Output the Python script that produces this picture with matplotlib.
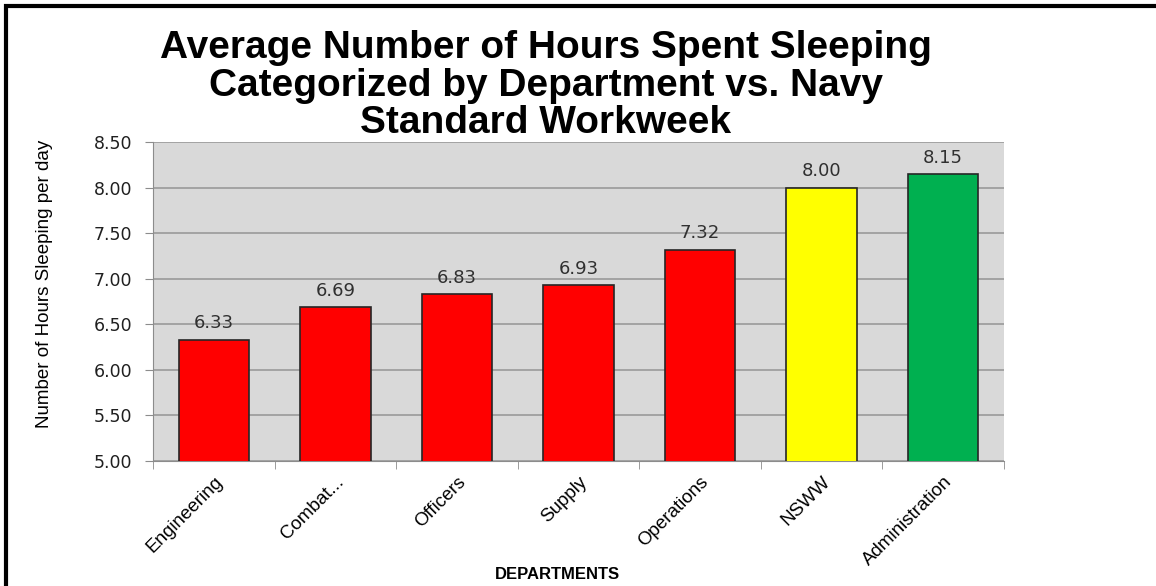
import matplotlib.pyplot as plt
from matplotlib.lines import Line2D
from matplotlib.ticker import FixedLocator

departments = ['Engineering', 'Combat...', 'Officers', 'Supply',
               'Operations', 'NSWW', 'Administration']
hours = [6.33, 6.69, 6.83, 6.93, 7.32, 8.00, 8.15]
bar_colors = ['#FF0000', '#FF0000', '#FF0000', '#FF0000', '#FF0000',
              '#FFFF00', '#00B050']
y_ticks = [5.00, 5.50, 6.00, 6.50, 7.00, 7.50, 8.00, 8.50]

fnt = ['Liberation Sans', 'DejaVu Sans']

fig = plt.figure(figsize=(11.56, 5.86), dpi=100)
ax = fig.add_axes([0.1324, 0.2133, 0.7361, 0.5444])

# ramka: tylko lewa i gorna krawedz sa widoczne
fig.lines.append(Line2D([0.0055, 0.0055, 1.0], [0.0, 0.9895, 0.9895],
                        transform=fig.transFigure, color='black', linewidth=3,
                        solid_joinstyle='miter'))

ax.set_facecolor('#D9D9D9')
x = range(len(departments))
bars = ax.bar(x, hours, width=0.58, color=bar_colors, edgecolor='#262626',
              linewidth=1.2, zorder=3)

for b, v in zip(bars, hours):
    ax.text(b.get_x() + b.get_width() / 2, v + 0.08, f'{v:.2f}',
            ha='center', va='bottom', fontsize=13, color='#303030', zorder=4)

ax.set_ylim(5.0, 8.5)
ax.set_xlim(-0.5, len(departments) - 0.5)
ax.set_yticks(y_ticks)
ax.set_yticklabels([f'{t:.2f}' for t in y_ticks], fontsize=12.5, color='#202020')
ax.yaxis.grid(True, color='#9A9A9A', linewidth=1.2, zorder=1)

ax.set_xticks(list(x))
ax.set_xticklabels(departments, rotation=45, ha='right', rotation_mode='anchor',
                   fontsize=13.5, family=fnt)
ax.xaxis.set_minor_locator(FixedLocator([i - 0.5 for i in range(len(departments) + 1)]))
ax.tick_params(axis='x', which='major', length=0, pad=9)
ax.tick_params(axis='x', which='minor', length=6, color='#8C8C8C')
ax.tick_params(axis='y', length=6, color='#8C8C8C', pad=9)

for s in ['top', 'right']:
    ax.spines[s].set_visible(False)
ax.spines['left'].set_color('#8C8C8C')
ax.spines['bottom'].set_color('#8C8C8C')

ax.set_ylabel('Number of Hours Sleeping per day', fontsize=13.5, family=fnt)
ax.yaxis.set_label_coords(-0.1175, 0.555)
fig.text(0.482, 0.006, 'DEPARTMENTS', ha='center', va='bottom', fontsize=12,
         fontweight='bold', family=fnt)

fig.text(0.472, 0.948,
         'Average Number of Hours Spent Sleeping\nCategorized by Department vs. Navy\nStandard Workweek',
         ha='center', va='top', fontsize=28, fontweight='bold', family=fnt,
         linespacing=1.05)

fig.savefig('out.png', dpi=100)
